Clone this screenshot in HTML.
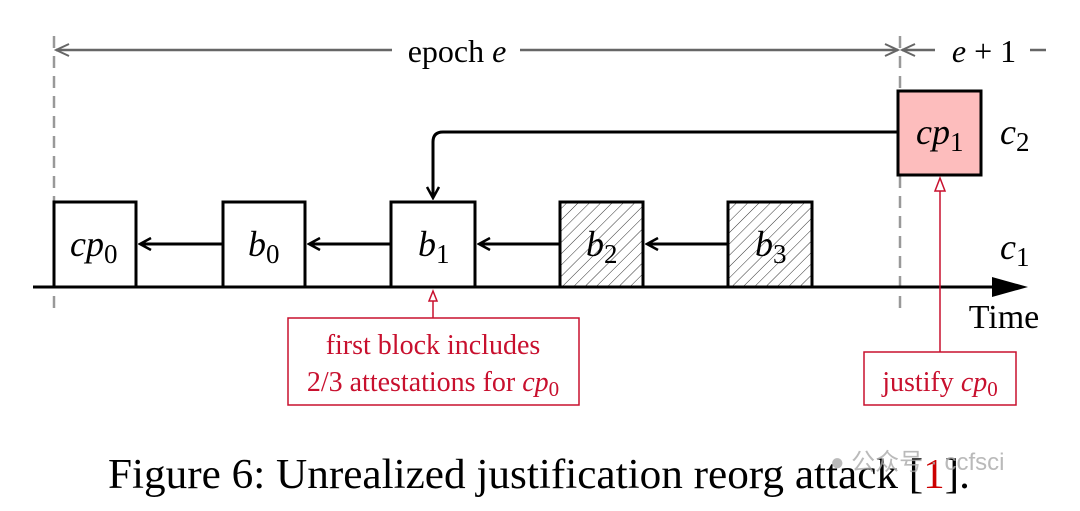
<!DOCTYPE html>
<html><head><meta charset="utf-8"><style>body{margin:0;background:#fff}svg{display:block}text{font-family:"Liberation Serif","Times New Roman",serif}</style></head><body>
<svg width="1080" height="511" viewBox="0 0 1080 511" xmlns="http://www.w3.org/2000/svg">
<defs>
<pattern id="h" width="8" height="8" patternUnits="userSpaceOnUse" patternTransform="rotate(45)">
<line x1="0" y1="0" x2="0" y2="8" stroke="#333" stroke-width="1"/></pattern>
<marker id="ar" markerWidth="14" markerHeight="14" refX="12" refY="7" orient="auto" markerUnits="userSpaceOnUse">
<path d="M1,1 L12,7 L1,13" fill="none" stroke="#000" stroke-width="2.5"/></marker>
<marker id="ag" markerWidth="16" markerHeight="14" refX="14" refY="7" orient="auto" markerUnits="userSpaceOnUse">
<path d="M1,1 L14,7 L1,13" fill="none" stroke="#666" stroke-width="2"/></marker>
</defs>
<line x1="54" y1="36" x2="54" y2="312" stroke="#999" stroke-width="2.5" stroke-dasharray="12,8"/>
<line x1="900" y1="36" x2="900" y2="312" stroke="#999" stroke-width="2.5" stroke-dasharray="12,8"/>
<line x1="392" y1="50" x2="56" y2="50" stroke="#666" stroke-width="2.5" marker-end="url(#ag)"/>
<line x1="520" y1="50" x2="898" y2="50" stroke="#666" stroke-width="2.5" marker-end="url(#ag)"/>
<text x="457" y="62" font-size="32" text-anchor="middle">epoch <tspan font-style="italic">e</tspan></text>
<line x1="935" y1="50" x2="902" y2="50" stroke="#666" stroke-width="2.5" marker-end="url(#ag)"/>
<text x="984" y="62" font-size="32" text-anchor="middle"><tspan font-style="italic">e</tspan> + 1</text>
<line x1="1030" y1="50" x2="1046" y2="50" stroke="#666" stroke-width="2.5"/>
<line x1="33" y1="287" x2="1000" y2="287" stroke="#000" stroke-width="3"/>
<path d="M1028,287 L992,277 L992,297 Z" fill="#000"/>
<text x="1004" y="328" font-size="34" text-anchor="middle">Time</text>
<g stroke="#000" stroke-width="3">
<rect x="54" y="202" width="82" height="85" fill="#fff"/>
<rect x="223" y="202" width="82" height="85" fill="#fff"/>
<rect x="391" y="202" width="84" height="85" fill="#fff"/>
<rect x="560" y="202" width="83" height="85" fill="#fff"/>
<rect x="560" y="202" width="83" height="85" fill="url(#h)"/>
<rect x="728" y="202" width="84" height="85" fill="#fff"/>
<rect x="728" y="202" width="84" height="85" fill="url(#h)"/>
<rect x="898" y="91" width="83" height="84" fill="#fdbdbd"/>
</g>
<g font-size="36" font-style="italic">
<text x="70" y="256">cp<tspan font-style="normal" font-size="27" dy="7">0</tspan></text>
<text x="248" y="256">b<tspan font-style="normal" font-size="27" dy="7">0</tspan></text>
<text x="418" y="256">b<tspan font-style="normal" font-size="27" dy="7">1</tspan></text>
<text x="586" y="256">b<tspan font-style="normal" font-size="27" dy="7">2</tspan></text>
<text x="755" y="256">b<tspan font-style="normal" font-size="27" dy="7">3</tspan></text>
<text x="916" y="144">cp<tspan font-style="normal" font-size="27" dy="7">1</tspan></text>
<text x="1000" y="144">c<tspan font-style="normal" font-size="27" dy="7">2</tspan></text>
<text x="1000" y="259">c<tspan font-style="normal" font-size="27" dy="7">1</tspan></text>
</g>
<g stroke="#000" stroke-width="3" marker-end="url(#ar)">
<line x1="223" y1="244" x2="140" y2="244"/>
<line x1="391" y1="244" x2="309" y2="244"/>
<line x1="560" y1="244" x2="479" y2="244"/>
<line x1="728" y1="244" x2="647" y2="244"/>
<path d="M898,132 L443,132 Q433,132 433,142 L433,198" fill="none"/>
</g>
<g stroke="#c8102e" stroke-width="1.5" fill="none">
<line x1="433" y1="318" x2="433" y2="300"/>
<path d="M433,291 L429,301 L437,301 Z" fill="#fff"/>
<rect x="288" y="318" width="291" height="87"/>
<line x1="940" y1="352" x2="940" y2="190"/>
<path d="M940,178 L935,191 L945,191 Z" fill="#fff"/>
<rect x="864" y="352" width="152" height="53"/>
</g>
<g fill="#c8102e" font-size="28" text-anchor="middle">
<text x="433" y="354">first block includes</text>
<text x="433" y="391">2/3 attestations for <tspan font-style="italic">cp</tspan><tspan font-size="21" dy="5">0</tspan></text>
<text x="940" y="391">justify <tspan font-style="italic">cp</tspan><tspan font-size="21" dy="5">0</tspan></text>
</g>
<text x="108" y="488" font-size="42" textLength="862" lengthAdjust="spacingAndGlyphs">Figure 6: Unrealized justification reorg attack [<tspan fill="#c00">1</tspan>].</text>
<text x="830" y="470" font-size="24" fill="#aaa" style="font-family:'Liberation Sans','Noto Sans CJK SC',sans-serif" opacity="0.8">● 公众号 · ccfsci</text>
</svg>
</body></html>
